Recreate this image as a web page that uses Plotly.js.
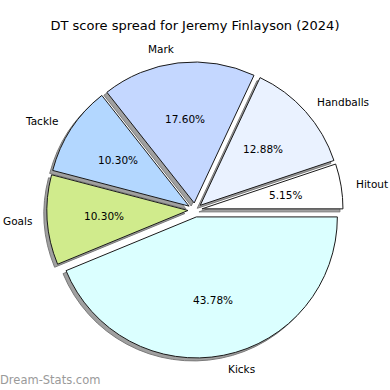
<!DOCTYPE html>
<html>
<head>
<meta charset="utf-8">
<script src="https://cdn.plot.ly/plotly-3.0.1.min.js"></script>
<style>html,body{margin:0;padding:0;background:#fff;}#chart{width:390px;height:390px;}</style>
</head>
<body>
<div id="chart"></div>
<script>
const categories = ['Hitout', 'Handballs', 'Mark', 'Tackle', 'Goals', 'Kicks'];
const shares = [5.15, 12.88, 17.60, 10.30, 10.30, 43.78];
const sliceColors = ['#ffffff', '#eaf2ff', '#c4d7ff', '#b3d7ff', '#d0eb8c', '#dbffff'];
const titleText = 'DT score spread for Jeremy Finlayson (2024)';
const watermark = 'Dream-Stats.com';

const W = 390, H = 390;
const cx = 195, cy = 210, R = 141, pullFrac = 0.05;
const labelDist = 1.1, pctDist = 0.6;
const half = R * (1 + pullFrac);
const dom = (dx, dy) => ({
  x: [(cx - half + dx) / W, (cx + half + dx) / W],
  y: [(H - cy - half - dy) / H, (H - cy + half - dy) / H]
});
const total = shares.reduce((a, b) => a + b, 0);
// start the first wedge at 3 o'clock going counterclockwise (like matplotlib)
const startRotation = 90 - 360 * shares[0] / total;
const pulls = categories.map(() => pullFrac);
const common = {
  type: 'pie', labels: categories, values: shares, sort: false,
  direction: 'counterclockwise', rotation: startRotation, pull: pulls,
  hoverinfo: 'skip', showlegend: false, textinfo: 'none'
};

const shadow = Object.assign({}, common, {
  domain: dom(-3, 3),
  marker: {colors: categories.map(() => '#a0a0a0'), line: {color: '#7a7a7a', width: 1}}
});
const main = Object.assign({}, common, {
  domain: dom(0, 0),
  marker: {colors: sliceColors, line: {color: '#1a1a1a', width: 1}}
});

// text labels placed like matplotlib: labels at 1.1 r, percentages at 0.6 r from each exploded wedge centre
const annotations = [];
let cum = 0;
shares.forEach((v, i) => {
  const mid = (cum + v / 2) / total * 2 * Math.PI;
  cum += v;
  const c = Math.cos(mid), s = Math.sin(mid);
  const lx = cx + (pullFrac + labelDist) * R * c, ly = cy - (pullFrac + labelDist) * R * s;
  const px = cx + (pullFrac + pctDist) * R * c, py = cy - (pullFrac + pctDist) * R * s;
  const font = {family: 'DejaVu Sans', size: 10.5, color: '#000'};
  annotations.push({
    text: categories[i], xref: 'paper', yref: 'paper', x: lx / W, y: 1 - ly / H,
    xanchor: c > 0 ? 'left' : 'right', yanchor: 'middle', showarrow: false, borderpad: 0, font
  });
  annotations.push({
    text: (v / total * 100).toFixed(2) + '%', xref: 'paper', yref: 'paper', x: px / W, y: 1 - py / H,
    xanchor: 'center', yanchor: 'middle', showarrow: false, borderpad: 0, font
  });
});
annotations.push({
  text: watermark, xref: 'paper', yref: 'paper', x: -1 / W, y: 1 - 380 / H,
  xanchor: 'left', yanchor: 'middle', showarrow: false, borderpad: 0,
  font: {family: 'DejaVu Sans', size: 11.5, color: '#9a9a9a'}
});

Plotly.newPlot('chart', [shadow, main], {
  width: W, height: H,
  margin: {l: 0, r: 0, t: 0, b: 0},
  paper_bgcolor: '#fff',
  title: {text: titleText, font: {family: 'DejaVu Sans', size: 13, color: '#000'}, x: 0.5, xanchor: 'center', y: 1 - 25 / H, yanchor: 'middle'},
  annotations
}, {staticPlot: true});
</script>
</body>
</html>
